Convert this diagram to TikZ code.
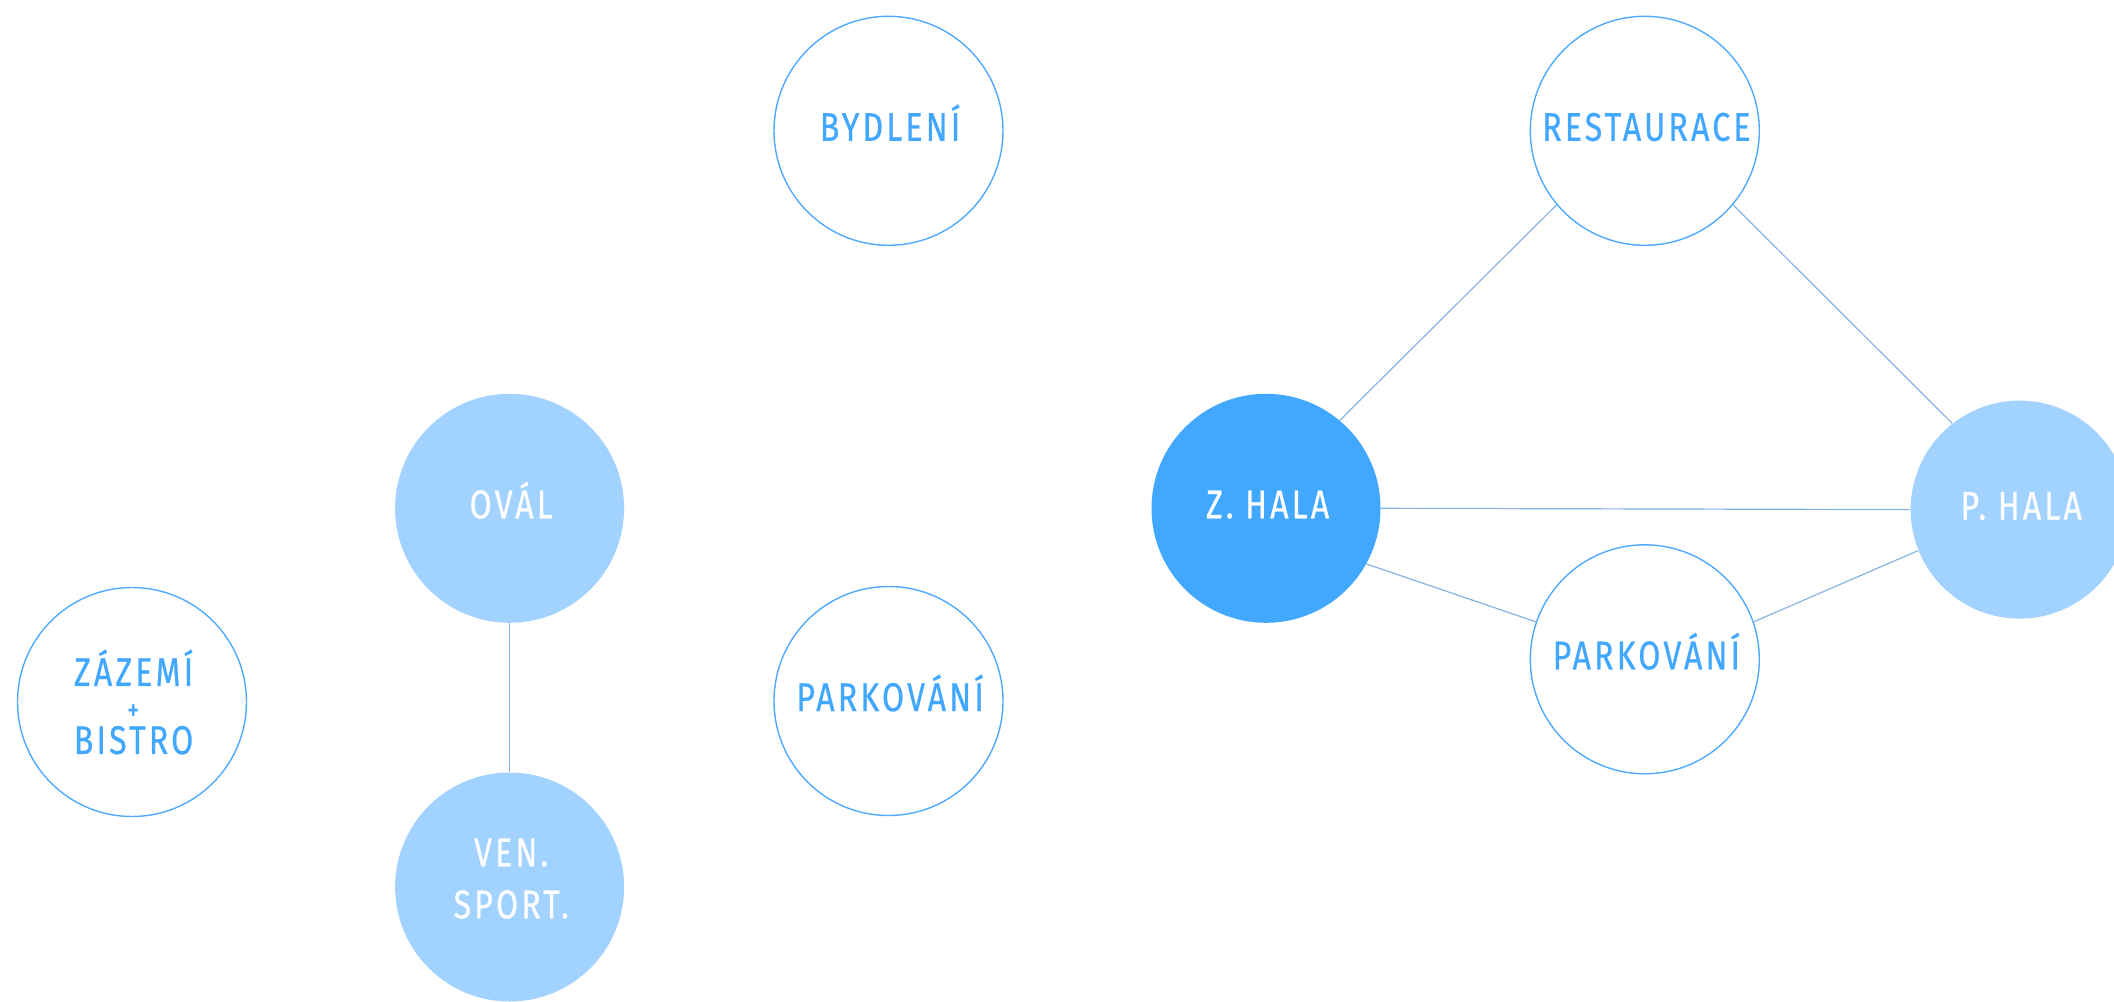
\documentclass[tikz,border=0pt]{standalone}
\usepackage{fontspec}
\setmainfont{Fira Sans}[FakeStretch=0.8,LetterSpace=8,FakeBold=0.6]
\definecolor{cdark}{RGB}{66,167,255}
\definecolor{clight}{RGB}{162,210,255}
\definecolor{cstroke}{RGB}{80,170,255}
\definecolor{cline}{RGB}{135,178,228}
\newcommand\tk{\kern-0.08em}
\tikzset{
  hub/.style={circle,inner sep=0pt,minimum size=114.5pt,font=\fontsize{20}{26}\selectfont},
  open/.style={hub,draw=cstroke,line width=0.7pt,fill=white,text=cdark},
  lightfill/.style={hub,fill=clight,text=white},
  darkfill/.style={hub,fill=cdark,text=white},
  one/.style={text height=13.5pt,text depth=3.5pt},
  link/.style={draw=cline,line width=0.6pt},
}
\begin{document}
\begin{tikzpicture}[x=0.5pt,y=-0.5pt]
\useasboundingbox (0,0) rectangle (2114,1001);
\clip (0,0) rectangle (2114,1001);
\node[open,one] (byd) at (888.5,130.8) {BYDLENÍ\tk};
\node[open,one] (rest) at (1644.8,130.8) {RESTAURACE\tk};
\node[lightfill,one] (oval) at (509.6,508.3) {OVÁL\tk};
\node[darkfill,one] (zh) at (1266,508.3) {Z. HALA\tk};
\node[lightfill,one,minimum size=109pt] (ph) at (2019.6,509.6) {P. HALA\tk};
\node[open,align=center,font=\fontsize{20}{17}\selectfont] (zaz) at (132,702) {ZÁZEMÍ\tk\\{\fontsize{15}{15}\selectfont +\tk}\\BISTRO\tk};
\node[open,one] (parkl) at (888.5,701) {PARKOVÁNÍ\tk};
\node[open,one] (parkr) at (1644.8,659.3) {PARKOVÁNÍ\tk};
\node[lightfill,align=center,text depth=8.5pt] (ven) at (509.6,887) {VEN.\tk\\SPORT.\tk};
\draw[link] (oval.south) -- (ven.north);
\draw[link] (zh.50) -- (rest.220);
\draw[link] (rest.-40) -- (ph.128);
\draw[link] (zh.0) -- (ph.180);
\draw[link] (zh.-29) -- (parkr.161);
\draw[link] (parkr.19) -- (ph.202);
\end{tikzpicture}
\end{document}
